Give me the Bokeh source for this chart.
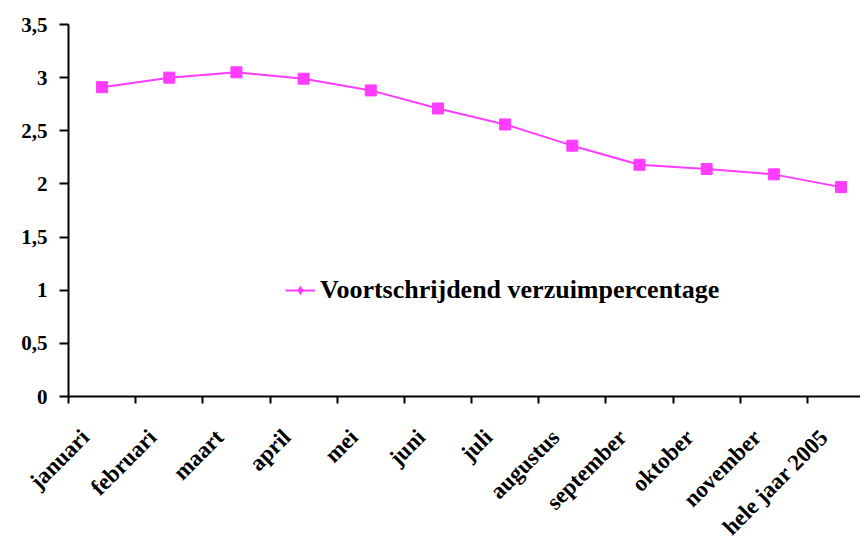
import math
from bokeh.plotting import figure
from bokeh.models import FixedTicker, Range1d, Legend, LegendItem
from bokeh.embed import file_html
from bokeh.resources import INLINE

months = ["januari", "februari", "maart", "april", "mei", "juni", "juli",
          "augustus", "september", "oktober", "november", "hele jaar 2005"]
values = [2.91, 3.00, 3.05, 2.99, 2.88, 2.71, 2.56, 2.36, 2.18, 2.14, 2.09, 1.97]
y_ticks = [0, 0.5, 1, 1.5, 2, 2.5, 3, 3.5]
y_labels = ["0", "0,5", "1", "1,5", "2", "2,5", "3", "3,5"]
series_name = "Voortschrijdend verzuimpercentage"

xs = [i + 0.5 for i in range(len(months))]
label_pos = [x - 0.25 for x in xs]

p = figure(width=860, height=551, output_backend="svg", toolbar_location=None,
           x_range=Range1d(0, 11.79), y_range=Range1d(0, 3.5),
           min_border_left=68, min_border_right=0, min_border_top=24, min_border_bottom=140)
p.outline_line_color = None
p.xgrid.visible = False
p.ygrid.visible = False

color = "#FF3CFF"
ln = p.line(xs, values, line_color=color, line_width=2)
dm = p.scatter(xs, values, marker="diamond", size=10, fill_color=color, line_color=color)
sc = p.scatter(xs, values, marker="square", size=11, fill_color=color, line_color=color)

font = "Liberation Serif"
# x axis
p.xaxis.ticker = FixedTicker(ticks=label_pos, minor_ticks=list(range(len(months) + 1)))
p.xaxis.major_label_overrides = {x: m for x, m in zip(label_pos, months)}
p.xaxis.major_tick_out = 0
p.xaxis.major_tick_in = 0
p.xaxis.minor_tick_out = 7
p.xaxis.minor_tick_in = 0
p.xaxis.minor_tick_line_color = "black"
p.xaxis.minor_tick_line_width = 2
p.xaxis.major_label_orientation = math.pi / 4
p.xaxis.major_label_standoff = 30
p.xaxis.major_label_text_font_size = "23px"
# y axis
p.yaxis.ticker = FixedTicker(ticks=y_ticks, minor_ticks=[])
p.yaxis.major_label_overrides = {t: l for t, l in zip(y_ticks, y_labels)}
p.yaxis.major_tick_out = 9
p.yaxis.major_tick_in = 0
p.yaxis.major_label_standoff = 12
p.yaxis.major_label_text_font_size = "21px"
for ax in (p.xaxis, p.yaxis):
    ax.axis_line_width = 2
    ax.axis_line_color = "black"
    ax.major_tick_line_width = 2
    ax.major_tick_line_color = "black"
    ax.major_label_text_font = font
    ax.major_label_text_font_style = "bold"
    ax.major_label_text_color = "black"

legend = Legend(items=[LegendItem(label=series_name, renderers=[ln, dm])],
                location=(217, 91), orientation="vertical")
legend.label_text_font = font
legend.label_text_font_style = "bold"
legend.label_text_font_size = "26px"
legend.label_text_color = "black"
legend.border_line_alpha = 0
legend.background_fill_alpha = 0
legend.padding = 0
legend.margin = 0
legend.glyph_width = 30
legend.label_standoff = 5
p.add_layout(legend)

open("out.html", "w").write(file_html(p, INLINE))
